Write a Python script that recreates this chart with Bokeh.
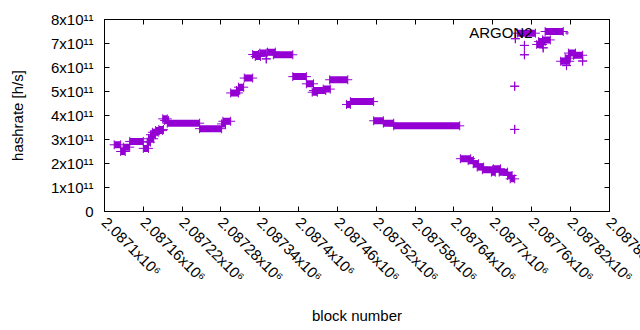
import math
from bokeh.plotting import figure
from bokeh.models import (FixedTicker, LinearAxis, Range1d, Label, Legend,
                          LegendItem, ColumnDataSource)
from bokeh.embed import file_html
from bokeh.resources import INLINE

series_name = "ARGON2"
x_title = "block number"
y_title = "hashrate [h/s]"

# runs of consecutive blocks sharing the same hashrate (first block, last block, value in 1e11 h/s)
run_start = [2087115, 2087125, 2087129, 2087139, 2087160, 2087166, 2087168, 2087171,
             2087174, 2087179, 2087184, 2087190, 2087193, 2087197, 2087247, 2087281,
             2087283, 2087295, 2087304, 2087307, 2087316, 2087329, 2087333, 2087340,
             2087350, 2087352, 2087361, 2087391, 2087412, 2087421, 2087423, 2087438,
             2087448, 2087474, 2087480, 2087516, 2087531, 2087547, 2087650, 2087662,
             2087670, 2087676, 2087684, 2087698, 2087701, 2087710, 2087723, 2087727,
             2087734, 2087734, 2087735, 2087738, 2087749, 2087749, 2087768, 2087771,
             2087777, 2087778, 2087781, 2087805, 2087814, 2087812, 2087817, 2087825,
             2087839]
run_end = [2087125, 2087132, 2087139, 2087160, 2087168, 2087171, 2087176, 2087179,
           2087183, 2087190, 2087191, 2087197, 2087199, 2087247, 2087281, 2087287,
           2087295, 2087307, 2087309, 2087315, 2087329, 2087338, 2087341, 2087350,
           2087350, 2087364, 2087391, 2087412, 2087423, 2087429, 2087442, 2087449,
           2087476, 2087480, 2087516, 2087531, 2087547, 2087649, 2087666, 2087670,
           2087678, 2087686, 2087700, 2087704, 2087712, 2087723, 2087730, 2087734,
           2087734, 2087734, 2087735, 2087766, 2087749, 2087749, 2087777, 2087781,
           2087789, 2087778, 2087809, 2087819, 2087814, 2087820, 2087828, 2087839,
           2087839]
run_rate_e11 = [2.78, 2.50, 2.68, 2.92, 2.63, 2.89, 3.03, 3.20,
                3.30, 3.37, 3.42, 3.86, 3.79, 3.68, 3.45, 3.65,
                3.76, 4.94, 5.04, 5.18, 5.56, 6.54, 6.46, 6.60,
                6.36, 6.64, 6.53, 5.62, 5.32, 4.97, 5.04, 5.10,
                5.49, 4.46, 4.58, 3.78, 3.68, 3.57, 2.20, 2.12,
                1.99, 1.85, 1.74, 1.64, 1.78, 1.64, 1.50, 1.36,
                5.22, 3.42, 7.20, 7.43, 6.92, 6.53, 6.96, 7.08,
                7.15, 6.82, 7.50, 6.26, 6.08, 6.39, 6.60, 6.51,
                6.27]

x_tick_values = [2087100, 2087160, 2087220, 2087280, 2087340, 2087400, 2087460,
                 2087520, 2087580, 2087640, 2087700, 2087760, 2087820, 2087880]
x_tick_labels = ["2.0871x10\u2076", "2.08716x10\u2076", "2.08722x10\u2076",
                 "2.08728x10\u2076", "2.08734x10\u2076", "2.0874x10\u2076",
                 "2.08746x10\u2076", "2.08752x10\u2076", "2.08758x10\u2076",
                 "2.08764x10\u2076", "2.0877x10\u2076", "2.08776x10\u2076",
                 "2.08782x10\u2076", "2.08788x10\u2076"]
y_tick_values = [0, 1e11, 2e11, 3e11, 4e11, 5e11, 6e11, 7e11, 8e11]
y_tick_labels = ["0", "1x10\u00b9\u00b9", "2x10\u00b9\u00b9", "3x10\u00b9\u00b9",
                 "4x10\u00b9\u00b9", "5x10\u00b9\u00b9", "6x10\u00b9\u00b9",
                 "7x10\u00b9\u00b9", "8x10\u00b9\u00b9"]

COLOR = "#9400d3"
FONT = "Liberation Sans"
FS = "15px"

# Bokeh pulls the outermost tick label back inside the canvas. A blank tick half a
# block past the last real tick becomes the outermost one, so the real last label
# stays at its tick and runs off the right edge, as in the reference.
x_end = x_tick_values[-1] + 0.5

rate = [v * 1e11 for v in run_rate_e11]
src = ColumnDataSource(dict(x0=run_start, x1=run_end, y=rate))

p = figure(width=640, height=330, output_backend="svg", toolbar_location=None,
           x_range=Range1d(x_tick_values[0], x_end),
           y_range=Range1d(y_tick_values[0], y_tick_values[-1]),
           min_border_left=104, min_border_right=31, min_border_top=19,
           min_border_bottom=119)
p.xgrid.visible = False
p.ygrid.visible = False
p.outline_line_color = "black"
p.outline_line_width = 1
p.background_fill_color = "white"
p.border_fill_color = "white"

p.segment(x0="x0", y0="y", x1="x1", y1="y", source=src, line_color=COLOR,
          line_width=7, line_cap="butt")
r_start = p.scatter(x="x0", y="y", source=src, marker="cross", size=9,
                    line_color=COLOR, line_width=1)
p.scatter(x="x1", y="y", source=src, marker="cross", size=9,
          line_color=COLOR, line_width=1)

def style_axis(ax, ticks, labels, show_labels):
    ax.ticker = FixedTicker(ticks=ticks)
    ax.major_tick_in = 5
    ax.major_tick_out = 0
    ax.minor_tick_in = 0
    ax.minor_tick_out = 0
    ax.axis_line_color = "black"
    ax.major_tick_line_color = "black"
    if show_labels:
        ax.major_label_overrides = {t: l for t, l in zip(ticks, labels)}
        ax.major_label_text_font = FONT
        ax.major_label_text_font_size = FS
        ax.major_label_text_color = "black"
        ax.axis_label_text_font = FONT
        ax.axis_label_text_font_size = FS
        ax.axis_label_text_font_style = "normal"
        ax.axis_label_text_color = "black"
    else:
        ax.major_label_overrides = {t: "" for t in ticks}
        ax.major_label_standoff = 0

xa = p.xaxis[0]
style_axis(xa, x_tick_values, x_tick_labels, True)
xa.ticker = FixedTicker(ticks=x_tick_values + [x_end])
xa.major_label_overrides[x_end] = " "
xa.axis_label = x_title
xa.major_label_orientation = -math.pi / 4
xa.major_label_standoff = 8
xa.axis_label_standoff = 13

ya = p.yaxis[0]
style_axis(ya, y_tick_values, y_tick_labels, True)
ya.axis_label = y_title
ya.major_label_standoff = 11
ya.axis_label_standoff = 22

top = LinearAxis()
style_axis(top, x_tick_values, x_tick_labels, False)
p.add_layout(top, "above")
right = LinearAxis()
style_axis(right, y_tick_values, y_tick_labels, False)
p.add_layout(right, "right")

p.add_layout(Label(x=428, y=179, x_units="screen", y_units="screen",
                   text=series_name, text_font=FONT, text_font_size=FS,
                   text_align="right", text_baseline="middle", text_color="black"))
leg = Legend(items=[LegendItem(label=" ", renderers=[r_start])],
             location=(458, 174), padding=0, margin=0, spacing=0,
             glyph_width=9, glyph_height=9, label_width=0, label_height=9,
             label_standoff=0, label_text_font_size="1px",
             background_fill_alpha=0, border_line_alpha=0)
p.add_layout(leg, "center")

open("out.html", "w").write(file_html(p, INLINE))
